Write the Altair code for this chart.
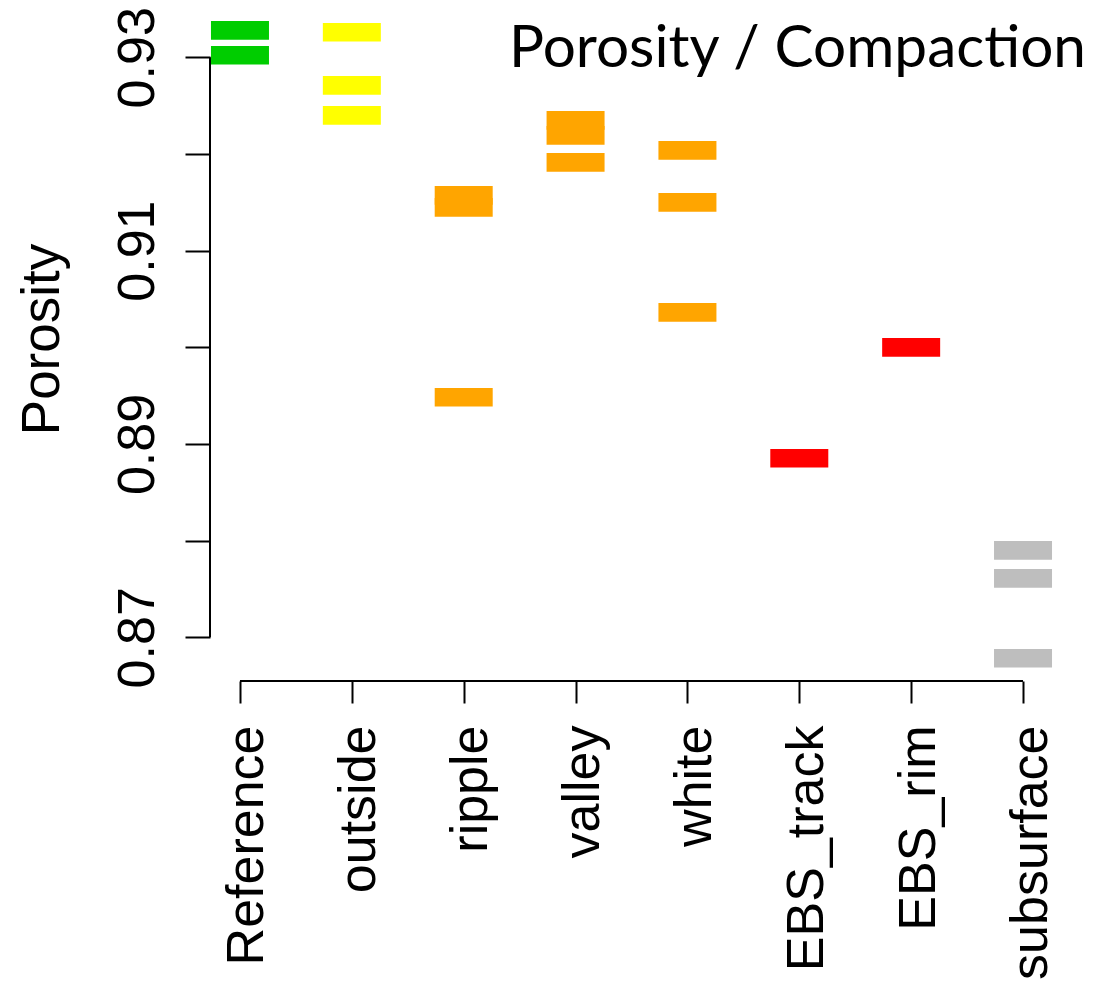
import altair as alt
import pandas as pd

categories = ["Reference", "outside", "ripple", "valley", "white",
              "EBS_track", "EBS_rim", "subsurface"]
colors = ["#00CD00", "#FFFF00", "#FFA500", "#FFA500", "#FFA500",
          "#FF0000", "#FF0000", "#BEBEBE"]

reference = [0.93279, 0.93021]
outside = [0.93259, 0.92710, 0.92400]
ripple = [0.91572, 0.91448, 0.89483]
valley = [0.92348, 0.92193, 0.91914]
white = [0.92038, 0.91500, 0.90362]
ebs_track = [0.88852]
ebs_rim = [0.90000]
subsurface = [0.87900, 0.87610, 0.86783]

y_ticks = [0.87, 0.88, 0.89, 0.90, 0.91, 0.92, 0.93]
y_labels = ["0.87", "0.89", "0.91", "0.93"]
title_text = "Porosity / Compaction"
y_title = "Porosity"

groups = [reference, outside, ripple, valley, white, ebs_track, ebs_rim, subsurface]
rows = []
for cat, vals in zip(categories, groups):
    for v in vals:
        rows.append({"group": cat, "porosity": v})
df = pd.DataFrame(rows)

W, H = 843, 671
FONT = "Liberation Sans"

xscale = alt.Scale(type="point", domain=categories, padding=0.268, round=False)
yscale = alt.Scale(domain=[0.865479, 0.934893], nice=False, zero=False, round=False)

label_expr = ("indexof(" + str(y_labels).replace('"', "'") +
              ", format(datum.value, '.2f')) >= 0 ? format(datum.value, '.2f') : ''")

bars = alt.Chart(df).mark_tick(thickness=18.7, size=58, opacity=1, orient="horizontal").encode(
    x=alt.X("group:N", scale=xscale, sort=categories,
            axis=alt.Axis(title=None, domain=False, grid=False, ticks=True,
                          tickSize=22, tickWidth=2, tickColor="black",
                          labelAngle=270, labelAlign="right", labelBaseline="alphabetic",
                          labelOffset=23, labelPadding=22, labelFont=FONT,
                          labelFontSize=52, labelColor="black", labelOverlap=False,
                          labelBound=False, labelFlush=False, labelLimit=0)),
    y=alt.Y("porosity:Q", scale=yscale,
            axis=alt.Axis(values=y_ticks, labelExpr=label_expr, domain=False, grid=False,
                          tickSize=25, tickWidth=2, tickColor="black",
                          labelAngle=270, labelAlign="center", labelBaseline="alphabetic",
                          labelPadding=32, labelFont=FONT, labelFontSize=52,
                          labelColor="black", labelOverlap=False, labelFlush=False,
                          labelBound=False, labelLimit=0,
                          title=y_title, titleFont=FONT, titleFontSize=53,
                          titleFontWeight="normal", titleColor="black",
                          titleAngle=270, titleAlign="center", titleBaseline="alphabetic",
                          titleX=-152, titleY=329, titleLimit=0)),
    color=alt.Color("group:N", scale=alt.Scale(domain=categories, range=colors), legend=None),
)

ydom = alt.Chart(pd.DataFrame({"lo": [y_ticks[0]], "hi": [y_ticks[-1]]})).mark_rule(
    color="black", strokeWidth=2).encode(
    x=alt.value(0),
    y=alt.Y("lo:Q", scale=yscale),
    y2="hi:Q",
)

xdom = alt.Chart(pd.DataFrame({"a": [categories[0]], "b": [categories[-1]]})).mark_rule(
    color="black", strokeWidth=2).encode(
    y=alt.value(H),
    x=alt.X("a:N", scale=xscale),
    x2="b:N",
)

title = alt.Chart(pd.DataFrame({"t": [title_text]})).mark_text(
    font="Lato", fontSize=58.5, align="right", baseline="alphabetic", color="black").encode(
    x=alt.value(876), y=alt.value(57), text="t:N")

chart = alt.layer(bars, ydom, xdom, title).properties(
    width=W, height=H,
    autosize=alt.AutoSizeParams(type="none"),
    padding={"left": 202, "top": 2, "right": 33, "bottom": 299},
    background="white",
).configure_view(stroke=None)

chart.save("out.html", embed_options={"renderer": "svg", "actions": False})
